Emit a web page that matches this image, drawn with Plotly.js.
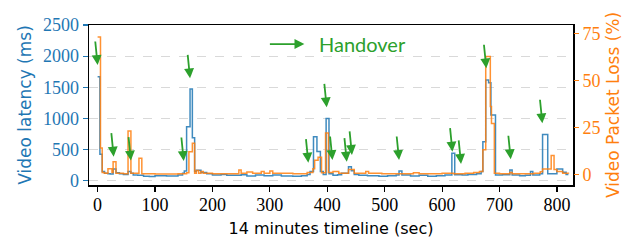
<!DOCTYPE html>
<html>
<head>
<meta charset="utf-8">
<script src="https://cdn.plot.ly/plotly-3.0.1.min.js"></script>
<style>html,body{margin:0;padding:0;background:#fff;}#chart{width:636px;height:244px;}</style>
</head>
<body>
<div id="chart"></div>
<script>
// Video latency (ms), step series
const latencyTime = [0,4,8,12,18,22,27,32,38,45,53,58,62,70,80,90,100,120,140,148,151,155,161,165,169,172,180,190,200,215,225,250,260,275,290,305,320,340,355,365,370,376,382,388,393,398,403,410,418,425,437,442,447,455,470,490,505,520,525,530,545,560,575,590,605,617,622,635,645,660,668,671,676,681,685,693,705,718,722,735,745,754,758,770,775,784,800,810,816,820];
const latencyMs = [1670,424,145,120,110,105,188,125,110,100,145,120,90,85,70,65,80,75,90,120,155,867,1472,690,145,167,130,110,90,100,85,95,75,90,80,90,75,70,80,100,145,706,470,145,100,1000,110,85,95,120,225,160,100,85,80,70,80,90,155,90,75,85,70,80,90,440,95,90,100,110,145,626,1617,1573,1055,90,95,172,90,80,85,145,90,110,740,110,188,135,100,100];

// Video packet loss (%), step series
const lossTime = [0,5,8,12,18,25,27,32,45,53,58,72,77,100,140,155,159,165,169,172,176,180,184,200,246,250,260,270,285,290,300,305,340,365,375,378,384,390,397,402,410,420,437,447,467,472,495,520,550,560,600,620,640,655,665,671,676,684,686,691,700,718,722,760,771,775,790,795,800,810,820];
const lossPct = [73,14,1.0,0.5,3,1,6.7,0.5,0.3,23,0.5,8.5,0.3,0.2,0.3,0.8,12,16.5,0.5,2,0.5,1.5,0.5,0.3,2.3,0.5,1.2,0.5,1.5,0.5,1.8,0.5,0.3,1,3,7.5,9,0.8,22,1,1.5,0.6,2.5,0.5,1.5,0.5,0.3,0.3,0.8,0.3,0.5,0.3,0.5,1,1.5,13,62.6,36,27,0.5,0.3,1,0.3,0.5,1.3,2.8,10,2.5,1.5,0.5,0.3];

// Handover events: time (s) and arrow tip level (ms)
const handoverTime = [0,28,58,150,161,367,399,409,434,443,525,618,633,677,719.5,774.6];
const handoverTipMs = [1858,385,322,316,1644,289,1178,332,305,413,332,466,268,1805,344,922];

const xTicks = [0,100,200,300,400,500,600,700,800];
const yTicks = [0,500,1000,1500,2000,2500];
const y2Ticks = [0,25,50,75];

const BLUE = '#1f77b4', ORANGE = '#ff7f0e', GREEN = '#2ca02c';

const traces = [
  {x: latencyTime, y: latencyMs, type: 'scatter', mode: 'lines', line: {shape: 'hv', color: BLUE, width: 1.5}, opacity: 0.85, yaxis: 'y', showlegend: false, hoverinfo: 'skip'},
  {x: lossTime, y: lossPct, type: 'scatter', mode: 'lines', line: {shape: 'hv', color: ORANGE, width: 1.5}, opacity: 0.85, yaxis: 'y2', showlegend: false, hoverinfo: 'skip'}
];

const annotations = handoverTime.map((t, i) => ({
  x: t, y: handoverTipMs[i], xref: 'x', yref: 'y', text: '', showarrow: true,
  ax: -2.5, ay: -25, arrowhead: 2, arrowsize: 1.1, arrowwidth: 1.8, arrowcolor: GREEN
}));
// Legend-like key
annotations.push({x: 0.445, y: 0.881, xref: 'paper', yref: 'paper', text: '', showarrow: true,
  ax: -36, ay: 0, arrowhead: 2, arrowsize: 1.1, arrowwidth: 1.8, arrowcolor: GREEN});
annotations.push({x: 0.472, y: 0.881, xref: 'paper', yref: 'paper', text: 'Handover', showarrow: false,
  xanchor: 'left', yanchor: 'middle', font: {family: 'Lato, sans-serif', size: 20, color: GREEN}});

const layout = {
  width: 636, height: 244,
  margin: {l: 88.7, r: 62.7, t: 25, b: 59},
  paper_bgcolor: '#fff', plot_bgcolor: '#fff',
  showlegend: false,
  xaxis: {
    range: [-15, 828], tickvals: xTicks, ticktext: xTicks.map(String),
    showgrid: false, zeroline: false, showline: true, mirror: true, linecolor: '#000', linewidth: 1.5,
    ticks: 'outside', ticklen: 5, tickwidth: 1.2, tickcolor: '#000', ticklabelstandoff: -2,
    tickfont: {family: 'Liberation Serif, serif', size: 18, color: '#000'},
    title: {text: '14 minutes timeline (sec)', standoff: 8, font: {family: 'DejaVu Sans, sans-serif', size: 16, color: '#000'}}
  },
  yaxis: {
    range: [-70, 2500], tickvals: yTicks, ticktext: yTicks.map(String),
    showgrid: true, gridcolor: '#d9d9d9', griddash: 'dash', gridwidth: 1,
    zeroline: false, showline: true, mirror: true, linecolor: '#000', linewidth: 1.5,
    ticks: 'outside', ticklen: 5, tickwidth: 1.2, tickcolor: BLUE,
    tickfont: {family: 'Liberation Serif, serif', size: 18, color: BLUE},
    title: {text: 'Video latency (ms)', standoff: 7, font: {family: 'DejaVu Sans, sans-serif', size: 17, color: BLUE}}
  },
  yaxis2: {
    overlaying: 'y', side: 'right', range: [-5.7, 79.4], tickvals: y2Ticks, ticktext: y2Ticks.map(String),
    showgrid: false, zeroline: false, showline: false,
    ticks: 'outside', ticklen: 5, tickwidth: 1.2, tickcolor: ORANGE,
    tickfont: {family: 'Liberation Serif, serif', size: 18, color: ORANGE},
    title: {text: 'Video Packet Loss (%)', standoff: 7, font: {family: 'DejaVu Sans, sans-serif', size: 17, color: ORANGE}}
  },
  annotations: annotations
};

Plotly.newPlot('chart', traces, layout, {staticPlot: true, displayModeBar: false});
</script>
</body>
</html>
